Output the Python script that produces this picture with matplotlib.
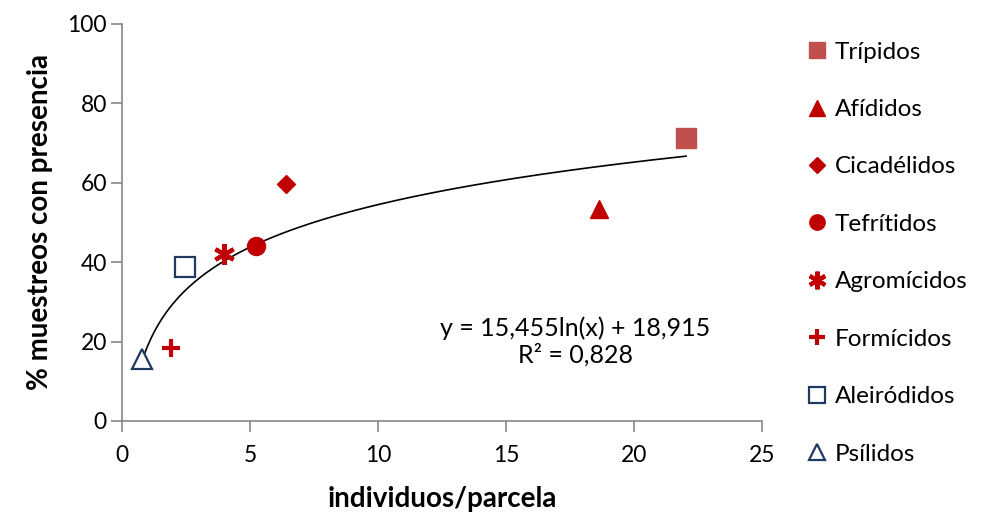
import numpy as np
import matplotlib
matplotlib.use("Agg")
import matplotlib.pyplot as plt

plt.rcParams["font.family"] = ["Lato", "DejaVu Sans"]

# data
groups = ["Trípidos", "Afídidos", "Cicadélidos", "Tefrítidos",
          "Agromícidos", "Formícidos", "Aleiródidos", "Psílidos"]
ind_parcela = [22.03, 18.65, 6.4, 5.25, 4.0, 1.9, 2.45, 0.78]
pct_presencia = [71.2, 53.3, 59.6, 44.0, 42.1, 18.5, 38.7, 15.5]

# logarithmic trendline shown on the chart
coef_a = 15.455
coef_b = 18.915
r2 = 0.828

RED = "#C00000"
BLUE = "#1F3A60"
styles = [
    dict(marker="s", ms=14, mfc="#C0504D", mec="#C0504D"),
    dict(marker="^", ms=13, mfc=RED, mec=RED),
    dict(marker="D", ms=9, mfc=RED, mec=RED),
    dict(marker="o", ms=13, mfc=RED, mec=RED),
    dict(marker=(6, 2, 0), ms=15, mfc=RED, mec=RED, mew=3),
    dict(marker="+", ms=13, mfc=RED, mec=RED, mew=3),
    dict(marker="s", ms=14, mfc="white", mec=BLUE, mew=1.6),
    dict(marker="^", ms=14, mfc="white", mec=BLUE, mew=1.6),
]

fig = plt.figure(figsize=(9.85, 5.17), dpi=100)
ax = fig.add_axes([0.1239, 0.1857, 0.6497, 0.7679])

xs = np.linspace(min(ind_parcela), max(ind_parcela), 300)
ax.plot(xs, coef_a * np.log(xs) + coef_b, color="black", lw=1.2, zorder=1)

handles = []
for name, x, y, st in zip(groups, ind_parcela, pct_presencia, styles):
    h, = ax.plot([x], [y], linestyle="none", label=name, zorder=3, **st)
    handles.append(h)

ax.text(17.7, 20.0, f"y = {coef_a:.3f}ln(x) + {coef_b:.3f}\nR² = {r2:.3f}".replace(".", ","),
        ha="center", va="center", fontsize=18, linespacing=1.2)

ax.set_xlim(0, 25)
ax.set_ylim(0, 100)
ax.set_xticks(range(0, 26, 5))
ax.set_yticks(range(0, 101, 20))
for side in ("top", "right"):
    ax.spines[side].set_visible(False)
for side in ("left", "bottom"):
    ax.spines[side].set_color("#868686")
    ax.spines[side].set_linewidth(1.2)
ax.tick_params(axis="both", colors="#868686", length=8, width=1.2,
               labelsize=16.5, labelcolor="black")
ax.tick_params(axis="y", pad=3)
ax.tick_params(axis="x", pad=9)

ax.set_xlabel("individuos/parcela", fontsize=20, fontweight="bold", labelpad=15)
ax.set_ylabel("% muestreos con presencia", fontsize=20, fontweight="bold", labelpad=10)

fig.legend(handles=handles, loc="upper left", bbox_to_anchor=(0.797, 0.962),
           frameon=False, fontsize=17.5, labelspacing=1.5, handlelength=0.8,
           handletextpad=0.35, markerscale=0.85, numpoints=1)

fig.savefig("out.png", dpi=100)
